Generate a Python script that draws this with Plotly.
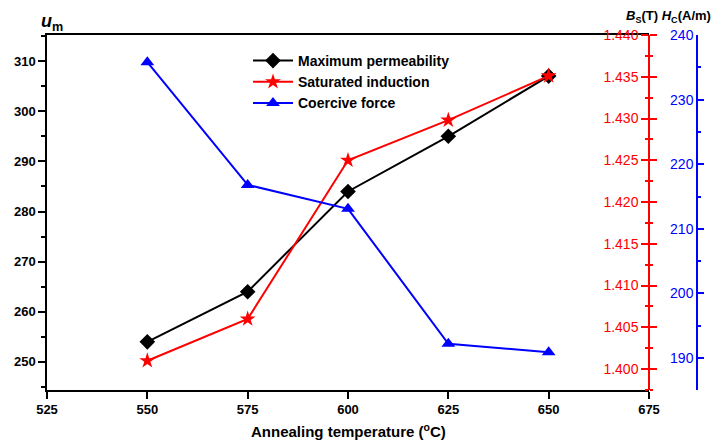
import plotly.graph_objects as go

temps = [550, 575, 600, 625, 650]
permeability = [254, 264, 284, 295, 307]
induction = [1.401, 1.406, 1.425, 1.4298, 1.4351]
coercive = [235.8, 216.8, 213.1, 192.2, 190.9]

bs_ticks = [1.400, 1.405, 1.410, 1.415, 1.420, 1.425, 1.430, 1.435, 1.440]
bs_labels = ["1.400", "1.405", "1.410", "1.415", "1.420", "1.425", "1.430", "1.435", "1.440"]
hc_ticks = [190, 200, 210, 220, 230, 240]
um_ticks = [250, 260, 270, 280, 290, 300, 310]
x_ticks = [525, 550, 575, 600, 625, 650, 675]

FONT = "Arial, Liberation Sans, sans-serif"
W, H = 722, 443
ML, MR, MT, MB = 47, 22, 35, 53
plot_w = W - ML - MR
plot_h = H - MT - MB
xdom_end = (649 - ML) / plot_w
blue_pos = (697 - ML) / plot_w
BS_RANGE = [1.3975, 1.440]

fig = go.Figure()
fig.add_trace(go.Scatter(x=temps, y=permeability, name="Maximum permeability",
                         mode="lines+markers", line=dict(color="black", width=2),
                         marker=dict(symbol="diamond", size=12, color="black"),
                         yaxis="y"))
fig.add_trace(go.Scatter(x=temps, y=induction, name="Saturated induction",
                         mode="lines+markers", line=dict(color="red", width=2),
                         marker=dict(symbol="star", size=12, color="red"),
                         yaxis="y2"))
fig.add_trace(go.Scatter(x=temps, y=coercive, name="Coercive force",
                         mode="lines+markers", line=dict(color="blue", width=2),
                         marker=dict(symbol="triangle-up", size=12, color="blue"),
                         yaxis="y3"))
# helper axis carrying the right half of the red crossing ticks
fig.add_trace(go.Scatter(x=[temps[0]], y=[induction[0]], mode="markers", opacity=0,
                         showlegend=False, hoverinfo="skip", yaxis="y4"))

fig.update_layout(
    width=W, height=H,
    margin=dict(l=ML, r=MR, t=MT, b=MB),
    paper_bgcolor="white", plot_bgcolor="white",
    font=dict(family=FONT, size=12, color="black"),
    showlegend=True,
    legend=dict(x=(248 - ML) / plot_w, y=1 - (45 - MT) / plot_h,
                xanchor="left", yanchor="top",
                font=dict(family=FONT, size=14, color="black", weight="bold"),
                bgcolor="rgba(0,0,0,0)", tracegroupgap=0, itemwidth=40),
    xaxis=dict(domain=[0, xdom_end], range=[525, 675], tickvals=x_ticks,
               showgrid=False, zeroline=False, showline=True, linecolor="black", linewidth=1.5,
               mirror=True, ticks="outside", ticklen=7, tickwidth=1.5, tickcolor="black",
               tickfont=dict(family=FONT, size=13, color="black", weight="bold")),
    yaxis=dict(range=[244.4, 315.2], tickvals=um_ticks,
               showgrid=False, zeroline=False, showline=True, linecolor="black", linewidth=1.5,
               ticks="outside", ticklen=7, tickwidth=1.5, tickcolor="black",
               minor=dict(dtick=5, ticks="outside", ticklen=4, tickcolor="black", tickwidth=1.5),
               tickfont=dict(family=FONT, size=13, color="black", weight="bold")),
    yaxis2=dict(range=BS_RANGE, tickvals=bs_ticks, ticktext=bs_labels,
                overlaying="y", side="left", anchor="free", position=xdom_end,
                showgrid=False, zeroline=False, showline=True, linecolor="red", linewidth=1.5,
                ticks="outside", ticklen=7, tickwidth=1.5, tickcolor="red",
                minor=dict(dtick=0.0025, tick0=1.4, ticks="outside", ticklen=3, tickcolor="red", tickwidth=1.5),
                ticklabelstandoff=0,
                tickfont=dict(family=FONT, size=14, color="red")),
    yaxis4=dict(range=BS_RANGE, tickvals=bs_ticks, showticklabels=False,
                overlaying="y", side="right", anchor="x",
                showgrid=False, zeroline=False, showline=False,
                ticks="outside", ticklen=7, tickwidth=1.5, tickcolor="red",
                minor=dict(dtick=0.0025, tick0=1.4, ticks="outside", ticklen=3, tickcolor="red", tickwidth=1.5)),
    yaxis3=dict(range=[185.05, 240], tickvals=hc_ticks,
                overlaying="y", side="left", anchor="free", position=blue_pos,
                showgrid=False, zeroline=False, showline=True, linecolor="blue", linewidth=1.5,
                ticks="inside", ticklen=6, tickwidth=1.5, tickcolor="blue",
                minor=dict(dtick=5, ticks="inside", ticklen=3, tickcolor="blue", tickwidth=1.5),
                tickfont=dict(family=FONT, size=14, color="blue")),
)

fig.add_annotation(text="<b><i>u</i></b><sub><b>m</b></sub>", xref="paper", yref="paper",
                   x=(39 - ML) / plot_w, y=1 + (MT - 9) / plot_h, xanchor="left", yanchor="top",
                   showarrow=False, font=dict(family=FONT, size=18, color="black"))
fig.add_annotation(text="<b><i>B</i></b><sub><b>S</b></sub><b>(T)</b> <b><i>H</i></b><sub><b>C</b></sub><b>(A/m)</b>",
                   xref="paper", yref="paper",
                   x=(624 - ML) / plot_w, y=1 + (MT - 6) / plot_h, xanchor="left", yanchor="top",
                   showarrow=False, font=dict(family=FONT, size=13, color="black"))
fig.add_annotation(text="<b>Annealing temperature (<sup>o</sup>C)</b>", xref="paper", yref="paper",
                   x=(348 - ML) / plot_w, y=-(442 - 390) / plot_h, xanchor="center", yanchor="bottom",
                   showarrow=False, font=dict(family=FONT, size=15, color="black"))

fig.write_html("out.html")
